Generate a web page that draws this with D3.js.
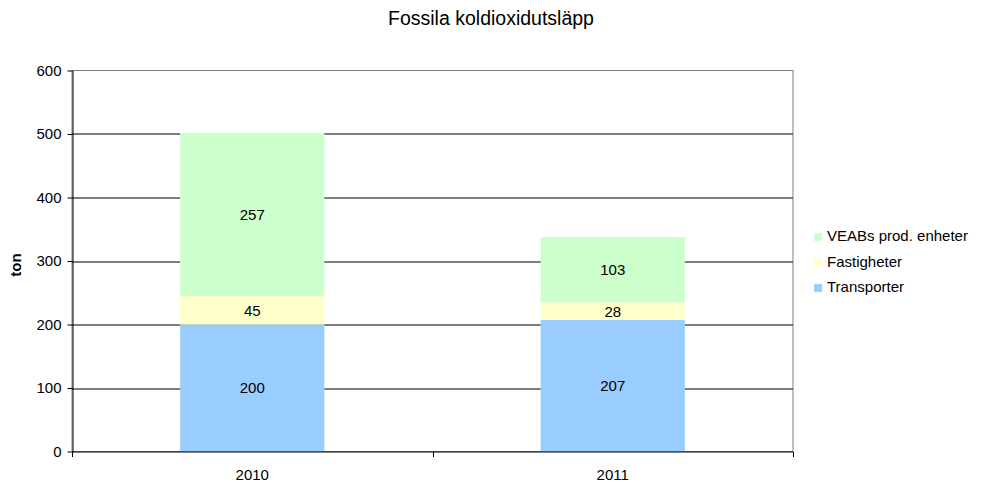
<!DOCTYPE html>
<html>
<head>
<meta charset="utf-8">
<script src="https://cdn.jsdelivr.net/npm/d3@7"></script>
<style>
  body { margin: 0; background: #fff; }
  svg { display: block; font-family: "Liberation Sans", Arial, sans-serif; }
</style>
</head>
<body>
<div id="chart"></div>
<script>
const years = ['2010', '2011'];
const seriesNames = ['Transporter', 'Fastigheter', 'VEABs prod. enheter'];
const transporter = [200, 207];
const fastigheter = [45, 28];
const veab = [257, 103];
const yTicks = [0, 100, 200, 300, 400, 500, 600];
const colors = ['#99ccff', '#ffffcc', '#ccffcc'];

const width = 983;
const height = 484;
const margin = { top: 70.5, right: 190, bottom: 32.5, left: 72 };
const plotW = 793 - margin.left;
const plotH = height - margin.top - margin.bottom;
const fs = '15px';

const rows = years.map((y, i) => ({
  year: y,
  Transporter: transporter[i],
  Fastigheter: fastigheter[i],
  'VEABs prod. enheter': veab[i],
}));
const stacked = d3.stack().keys(seriesNames)(rows);

const x = d3.scaleBand().domain(years).range([0, plotW]).paddingInner(0.6).paddingOuter(0.3);
const y = d3.scaleLinear().domain([0, 600]).range([plotH, 0]);

const svg = d3
  .select('#chart')
  .append('svg')
  .attr('width', width)
  .attr('height', height);

svg
  .append('text')
  .attr('x', 491)
  .attr('y', 25)
  .attr('text-anchor', 'middle')
  .style('font-size', '19.5px')
  .text('Fossila koldioxidutsläpp');

const g = svg.append('g').attr('transform', `translate(${margin.left},${margin.top})`);

// plot frame (grey right/top)
g.append('rect')
  .attr('x', 0)
  .attr('y', 0)
  .attr('width', plotW)
  .attr('height', plotH)
  .attr('fill', 'none')
  .attr('stroke', '#808080');

// gridlines
g.append('g')
  .selectAll('line')
  .data(yTicks.filter((d) => d > 0 && d < 600))
  .join('line')
  .attr('x1', 0)
  .attr('x2', plotW)
  .attr('y1', (d) => Math.round(y(d)) + 0.5)
  .attr('y2', (d) => Math.round(y(d)) + 0.5)
  .attr('stroke', '#000');

// bars
const layer = g
  .append('g')
  .selectAll('g')
  .data(stacked)
  .join('g')
  .attr('fill', (d, i) => colors[i]);

layer
  .selectAll('rect')
  .data((d) => d)
  .join('rect')
  .attr('x', (d) => x(d.data.year))
  .attr('width', x.bandwidth())
  .attr('y', (d) => y(d[1]))
  .attr('height', (d) => y(d[0]) - y(d[1]));

// value labels
g.append('g')
  .selectAll('g')
  .data(stacked)
  .join('g')
  .selectAll('text')
  .data((d) => d)
  .join('text')
  .attr('x', (d) => x(d.data.year) + x.bandwidth() / 2)
  .attr('y', (d) => (y(d[0]) + y(d[1])) / 2)
  .attr('dy', '0.36em')
  .attr('text-anchor', 'middle')
  .style('font-size', fs)
  .text((d) => d[1] - d[0]);

// y axis
const yAxis = g
  .append('g')
  .attr('transform', 'translate(0.5,0)')
  .call(d3.axisLeft(y).tickValues(yTicks).tickSize(5).tickSizeOuter(0));
yAxis.select('.domain').attr('stroke', '#000');
yAxis.selectAll('.tick line').attr('stroke', '#000');
yAxis
  .selectAll('.tick text')
  .attr('x', -11)
  .style('font-family', '"Liberation Sans", Arial, sans-serif')
  .style('font-size', fs)
  .attr('fill', '#000');

// x axis
const xAxis = g.append('g').attr('transform', `translate(0,${plotH + 0.5})`);
xAxis.append('line').attr('x1', 0).attr('x2', plotW).attr('stroke', '#000');
xAxis
  .selectAll('line.tk')
  .data([0, plotW / 2, plotW])
  .join('line')
  .attr('class', 'tk')
  .attr('x1', (d) => Math.round(d) + 0.5)
  .attr('x2', (d) => Math.round(d) + 0.5)
  .attr('y1', 0)
  .attr('y2', 5)
  .attr('stroke', '#000');
xAxis
  .selectAll('text')
  .data(years)
  .join('text')
  .attr('x', (d) => x(d) + x.bandwidth() / 2)
  .attr('y', 28)
  .attr('text-anchor', 'middle')
  .style('font-size', fs)
  .text((d) => d);

// y label
svg
  .append('text')
  .attr('transform', `translate(21,${margin.top + plotH / 2 + 4}) rotate(-90)`)
  .attr('text-anchor', 'middle')
  .style('font-size', fs)
  .style('font-weight', 'bold')
  .text('ton');

// legend
const legendItems = seriesNames.slice().reverse();
const legend = svg
  .append('g')
  .selectAll('g')
  .data(legendItems)
  .join('g')
  .attr('transform', (d, i) => `translate(814,${236 + i * 25.5})`);
legend
  .append('rect')
  .attr('x', 0)
  .attr('y', -3)
  .attr('width', 8)
  .attr('height', 8)
  .attr('fill', (d) => colors[seriesNames.indexOf(d)]);
legend
  .append('text')
  .attr('x', 13)
  .attr('dy', '0.36em')
  .style('font-size', fs)
  .text((d) => d);
</script>
</body>
</html>
